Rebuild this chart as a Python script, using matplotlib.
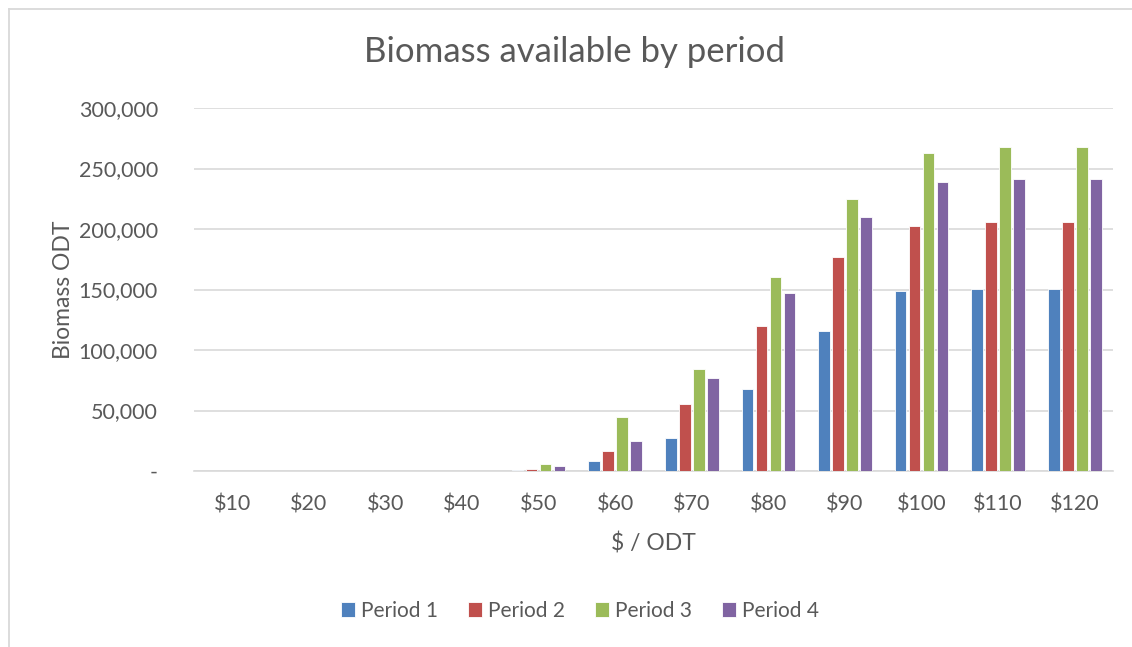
import matplotlib.pyplot as plt
import numpy as np
from matplotlib.lines import Line2D

# price points and biomass per period (ODT)
prices = ['$10', '$20', '$30', '$40', '$50', '$60', '$70', '$80', '$90', '$100', '$110', '$120']
period1 = [0, 0, 0, 0, 500, 8300, 27500, 68000, 115500, 149000, 150500, 150500]
period2 = [0, 0, 0, 0, 1500, 16500, 55500, 120000, 177000, 202500, 206000, 206000]
period3 = [0, 0, 0, 0, 6000, 44500, 84000, 160000, 225000, 263000, 268000, 268000]
period4 = [0, 0, 0, 0, 4500, 25000, 77000, 147000, 210000, 239000, 241500, 241500]
series_names = ['Period 1', 'Period 2', 'Period 3', 'Period 4']
colors = ['#4F81BD', '#C0504D', '#9BBB59', '#8064A2']

plt.rcParams['font.family'] = ['Lato', 'DejaVu Sans']
grey = '#595959'

fig = plt.figure(figsize=(11.32, 6.47), dpi=100)
W, H = 1132, 647
ax = fig.add_axes([194 / W, 1 - 471 / H, (1113 - 194) / W, (471 - 108) / H])

# chart border: only the left and top edges are inside the picture
fig.lines.append(Line2D([8.5 / W, 8.5 / W], [0, 1 - 8.5 / H], transform=fig.transFigure,
                        color='#D9D9D9', linewidth=1.3))
fig.lines.append(Line2D([8.5 / W, 1], [1 - 8.5 / H, 1 - 8.5 / H], transform=fig.transFigure,
                        color='#D9D9D9', linewidth=1.3))

x = np.arange(len(prices))
pitch = 0.183
width = 0.152
for i, (vals, name) in enumerate(zip([period1, period2, period3, period4], series_names)):
    ax.bar(x + (i - 1.5) * pitch, vals, width, color=colors[i], label=name,
           edgecolor='white', linewidth=0.6, zorder=3)

ax.set_xlim(-0.5, len(prices) - 0.5)
ax.set_ylim(0, 300000)
ax.set_yticks(np.arange(0, 300001, 50000))
ax.set_yticklabels(['-'] + ['{:,}'.format(v) for v in range(50000, 300001, 50000)])
ax.set_xticks(x)
ax.set_xticklabels(prices)
ax.grid(axis='y', color='#D9D9D9', linewidth=1.2, zorder=0)
for s in ['top', 'right', 'left']:
    ax.spines[s].set_visible(False)
ax.spines['bottom'].set_color('#D9D9D9')
ax.spines['bottom'].set_linewidth(1.2)
ax.tick_params(length=0, labelsize=15.5, labelcolor=grey)
ax.tick_params(axis='y', pad=26)
ax.tick_params(axis='x', pad=17)

ax.set_xlabel('$ / ODT', fontsize=16.5, color=grey, labelpad=13)
ax.set_ylabel('Biomass ODT', fontsize=16.5, color=grey, labelpad=3)
fig.text(575 / W, 1 - 52 / H, 'Biomass available by period', fontsize=25, color=grey,
         ha='center', va='center')

fig.legend(loc='center', bbox_to_anchor=(580 / W, 1 - 611 / H), ncol=4, frameon=False,
           fontsize=15, labelcolor=grey, handlelength=0.7, handleheight=0.7,
           handletextpad=0.3, columnspacing=1.4)

fig.savefig('out.png', dpi=100, facecolor='white')
